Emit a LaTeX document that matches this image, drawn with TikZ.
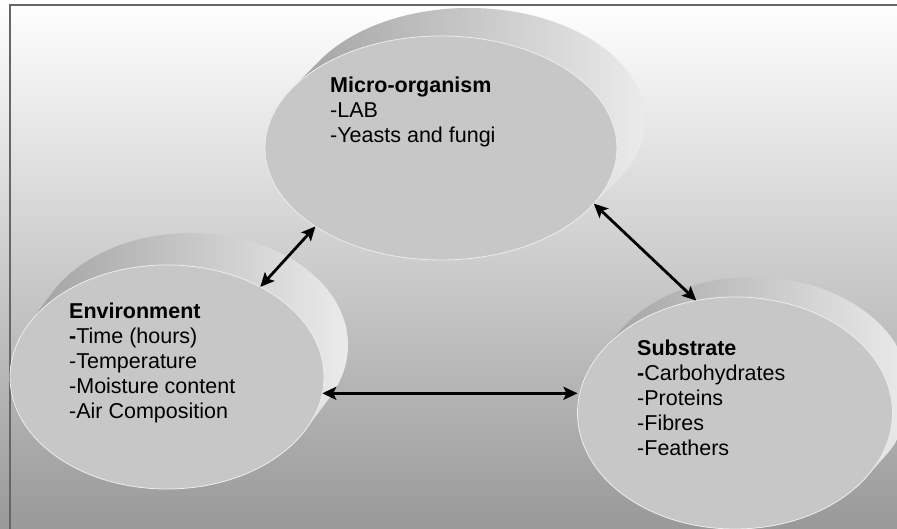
\documentclass[tikz,border=0pt]{standalone}
\usepackage{fontspec}
\setmainfont{Liberation Sans}
\usetikzlibrary{arrows.meta, shapes.geometric}

\tikzset{
  disc/.style={ellipse, fill=black!22, draw=black!7, line width=0.8pt, inner sep=0pt, outer sep=0pt},
  rim/.style={left color=black!38, right color=black!8},
  twoway/.style={{Stealth[length=14pt,width=13pt,inset=3pt]}-{Stealth[length=14pt,width=13pt,inset=3pt]}, line width=2.8pt},
  txt/.style={align=left, anchor=base west, inner sep=0pt, font=\fontsize{21.5}{25}\selectfont}
}

\begin{document}
\begin{tikzpicture}[x=1pt, y=1pt]
  \useasboundingbox (0,0) rectangle (897,529);
  \shade[top color=white, middle color=black!15, bottom color=black!40] (0,0) rectangle (897,529);
  \draw[black!60, line width=2pt] (10,0) -- (10,524) -- (897,524);

  % micro-organism
  \shade[rim] foreach \k in {0,...,14} {(441+2*\k, 381+2*\k) ellipse [x radius=176, y radius=112]};
  \node[disc, minimum width=352pt, minimum height=224pt] (micro) at (441,381) {};

  % environment
  \shade[rim] foreach \k in {0,...,16} {(167+1.5*\k, 152+2*\k) ellipse [x radius=157, y radius=112]};
  \node[disc, minimum width=314pt, minimum height=224pt] (env) at (167,152) {};

  % substrate
  \shade[rim] foreach \k in {0,...,10} {(735+1.8*\k, 116+2*\k) ellipse [x radius=157.5, y radius=116]};
  \node[disc, minimum width=315pt, minimum height=232pt] (sub) at (735,116) {};

  % texts (anchored on the last line)
  \node[txt] (microtxt) at (330,386) {\textbf{Micro-organism}\\-LAB\\-Yeasts and fungi};
  \node[txt] (envtxt) at (69,110) {\textbf{Environment}\\\textbf{-}Time (hours)\\-Temperature\\-Moisture content\\-Air Composition};
  \node[txt] (subtxt) at (637,73) {\textbf{Substrate}\\\textbf{-}Carbohydrates\\-Proteins\\-Fibres\\-Feathers};

  \draw[twoway] (micro.212) -- (env.44);
  \draw[twoway] (micro.-20) -- (sub.109);
  \draw[twoway] (env.-6) -- (env.-6 -| sub.west);
\end{tikzpicture}
\end{document}
